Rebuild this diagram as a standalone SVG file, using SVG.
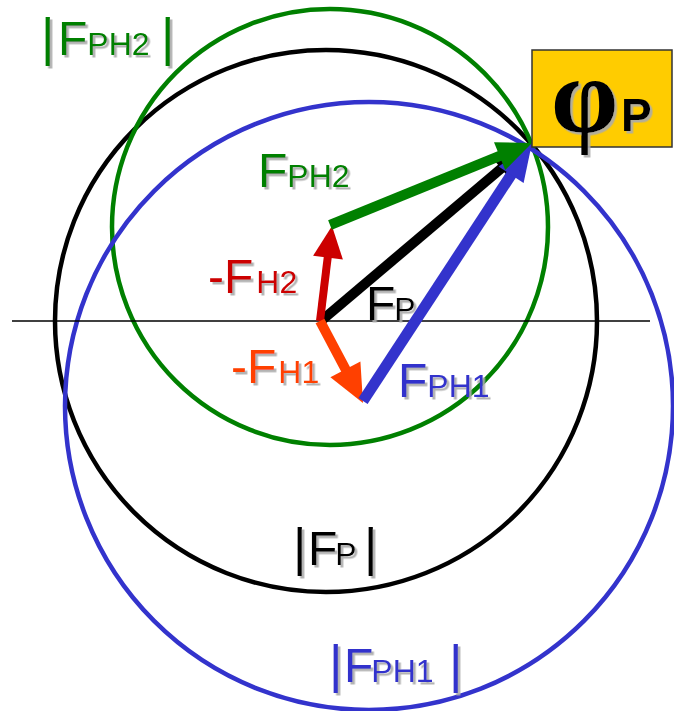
<svg xmlns="http://www.w3.org/2000/svg" width="674" height="711" viewBox="0 0 674 711">
<defs>
<filter id="sh" x="-10%" y="-10%" width="130%" height="130%">
<feDropShadow dx="2.5" dy="2.5" stdDeviation="0.6" flood-color="#aaaaaa" flood-opacity="0.9"/>
</filter>
</defs>
<style>
text{font-family:"Liberation Sans",Arial,sans-serif;filter:url(#sh)}
.circ{fill:none;stroke-width:4.5}
.big{font-size:48px}
.sm{font-size:32px}
.bar{font-size:52px}
</style>
<rect width="674" height="711" fill="#ffffff"/>
<g id="circles">
<circle id="circle-fp" class="circ" cx="326" cy="321" r="271" stroke="#000000"/>
<circle id="circle-fph2" class="circ" cx="330" cy="227" r="218" stroke="#008000"/>
<circle id="circle-fph1" class="circ" cx="369" cy="406" r="304" stroke="#3333cc"/>
</g>
<line id="axis" x1="12" y1="321" x2="650" y2="321" stroke="#000000" stroke-width="1.5"/>
<g id="connectors">
<g id="vec-fp">
<line x1="321" y1="321" x2="503" y2="167" stroke="#000000" stroke-width="10"/>
<polygon points="528,146 492.3,157.9 510.3,179.3" fill="#000000"/>
</g>
<g id="vec-fh2">
<line x1="320" y1="321" x2="328" y2="255" stroke="#cc0000" stroke-width="8"/>
<polygon points="332,226 313.1,255.8 342.9,259.6" fill="#cc0000"/>
</g>
<g id="vec-fh1">
<line x1="320" y1="321" x2="347" y2="372" stroke="#ff4000" stroke-width="10"/>
<polygon points="363,403 330.4,377.3 360.4,361.5" fill="#ff4000"/>
</g>
<g id="vec-fph1">
<line x1="363" y1="401" x2="513" y2="172" stroke="#3333cc" stroke-width="11"/>
<polygon points="532,143 498.6,166.6 523.6,183" fill="#3333cc"/>
</g>
<g id="vec-fph2">
<line x1="330" y1="225" x2="502" y2="155" stroke="#008000" stroke-width="10"/>
<polygon points="532,143 494,142.3 505.2,170" fill="#008000"/>
</g>
</g>
<g id="phi-box">
<rect x="532" y="50" width="140" height="97" fill="#ffcc00" stroke="#333333" stroke-width="1.5"/>
<text x="551" y="132" style="font-family:'Liberation Serif',serif" font-size="108" font-weight="bold" fill="#000000">φ</text>
<text x="621" y="131" font-size="46" font-weight="bold" fill="#000000">P</text>
</g>
<g id="label-abs-fph2" fill="#008000">
<text x="41" y="55" class="bar">|</text>
<text x="58" y="55"><tspan class="big">F</tspan><tspan class="sm">PH2</tspan></text>
<text x="161" y="55" class="bar">|</text>
</g>
<g id="label-fph2" fill="#008000">
<text x="258" y="187"><tspan class="big">F</tspan><tspan class="sm">PH2</tspan></text>
</g>
<g id="label-fh2" fill="#cc0000">
<text x="208" y="293"><tspan class="big">-F</tspan><tspan class="sm" dx="3">H2</tspan></text>
</g>
<g id="label-fp" fill="#000000">
<text x="366" y="320"><tspan class="big">F</tspan><tspan class="sm" dx="-1">P</tspan></text>
</g>
<g id="label-fh1" fill="#ff4000">
<text x="231" y="383"><tspan class="big">-F</tspan><tspan class="sm" dx="2">H1</tspan></text>
</g>
<g id="label-fph1" fill="#3333cc">
<text x="398" y="397"><tspan class="big">F</tspan><tspan class="sm">PH1</tspan></text>
</g>
<g id="label-abs-fp" fill="#000000">
<text x="293" y="565" class="bar">|</text>
<text x="308" y="565"><tspan class="big">F</tspan><tspan class="sm" dx="-2">P</tspan></text>
<text x="364" y="565" class="bar">|</text>
</g>
<g id="label-abs-fph1" fill="#3333cc">
<text x="329" y="682" class="bar">|</text>
<text x="344" y="682"><tspan class="big">F</tspan><tspan class="sm" dx="-2">PH1</tspan></text>
<text x="449" y="682" class="bar">|</text>
</g>
</svg>
